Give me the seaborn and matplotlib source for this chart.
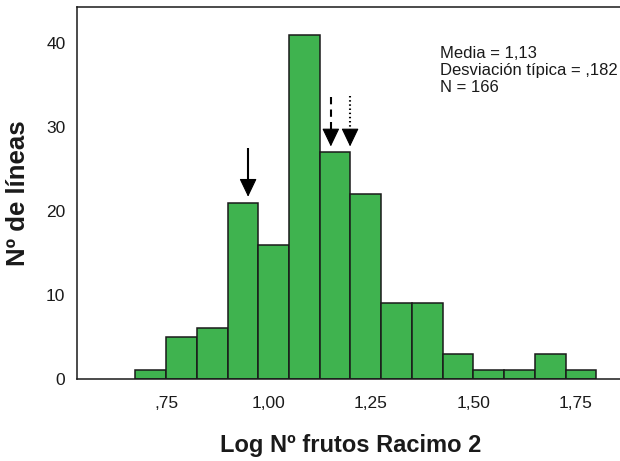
import matplotlib
matplotlib.use("Agg")
import matplotlib.pyplot as plt
import seaborn as sns
import numpy as np
import pandas as pd

# ---- data ----
bin_edges = [0.675, 0.75, 0.825, 0.90, 0.975, 1.05, 1.125, 1.20, 1.275,
             1.35, 1.425, 1.50, 1.575, 1.65, 1.725, 1.80]
counts = [1, 5, 6, 21, 16, 41, 27, 22, 9, 9, 3, 1, 1, 3, 1]
x_ticks = [0.75, 1.00, 1.25, 1.50, 1.75]
x_tick_labels = [",75", "1,00", "1,25", "1,50", "1,75"]
y_ticks = [0, 10, 20, 30, 40]
stats_lines = ["Media = 1,13", "Desviación típica = ,182", "N = 166"]
# arrows: (x, y_top, y_tip, linestyle)
arrow_x = [0.950, 1.152, 1.199]
arrow_top = [27.5, 33.6, 33.7]
arrow_tip = [21.7, 27.7, 27.7]
arrow_styles = ["-", (0, (3.5, 2.5)), (0, (0.7, 1.3))]
head_len = 1.9  # head length in data units

centers = [(a + b) / 2 for a, b in zip(bin_edges[:-1], bin_edges[1:])]
df = pd.DataFrame({"x": centers, "n": counts})

sns.set_style("white")
plt.rcParams["font.family"] = ["Liberation Sans", "DejaVu Sans"]

fig = plt.figure(figsize=(6.2, 4.61), dpi=100)
W, H = 620, 461
left_px, top_px, bottom_px = 77.3, 7.3, 378.7
ax = fig.add_axes([left_px / W, (H - bottom_px) / H, 1 - left_px / W,
                   (bottom_px - top_px) / H])

sns.histplot(data=df, x="x", weights="n", bins=bin_edges, ax=ax,
             color="#3fb34f", alpha=1.0, edgecolor="#1a1a1a", linewidth=1.1)

ax.set_xlim(0.533, 1.858)
ax.set_ylim(0, 44.3)
ax.set_xticks(x_ticks)
ax.set_xticklabels(x_tick_labels)
ax.set_yticks(y_ticks)
ax.tick_params(axis="both", direction="out", length=7.5, width=1.1,
               color="#1a1a1a", labelsize=12.5, labelcolor="#1a1a1a")
ax.tick_params(axis="x", pad=5)
ax.tick_params(axis="y", pad=1)
for s in ["left", "bottom", "top"]:
    ax.spines[s].set_visible(True)
    ax.spines[s].set_color("#1a1a1a")
    ax.spines[s].set_linewidth(1.1)
ax.spines["right"].set_visible(False)

ax.set_xlabel("Log Nº frutos Racimo 2", fontsize=17, fontweight="bold",
              color="#1a1a1a")
ax.xaxis.set_label_coords(0.504, -0.149)
ax.set_ylabel("Nº de líneas", fontsize=18.5, fontweight="bold",
              color="#1a1a1a")
ax.yaxis.set_label_coords(-0.087, 0.5)

for xv, yt, yp, ls in zip(arrow_x, arrow_top, arrow_tip, arrow_styles):
    base = yp + head_len
    ax.plot([xv, xv], [yt, base], color="black", lw=1.5, ls=ls,
            solid_capstyle="butt", dash_capstyle="butt")
    ax.annotate("", xy=(xv, yp), xytext=(xv, base),
                arrowprops=dict(arrowstyle="-|>,head_length=1.15,head_width=0.55",
                                mutation_scale=10, lw=0.8, ls="-",
                                color="black", shrinkA=0, shrinkB=0))

baselines = [58.3, 75.5, 92.0]
for txt, b in zip(stats_lines, baselines):
    fig.text(440 / W, (H - b) / H, txt, fontsize=12, va="baseline",
             ha="left", color="#1a1a1a")

fig.savefig("out.png", dpi=100)
